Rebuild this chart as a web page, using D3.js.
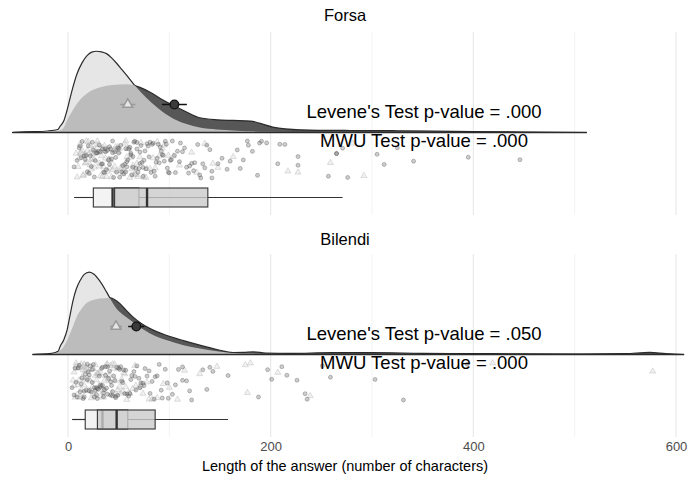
<!DOCTYPE html>
<html>
<head>
<meta charset="utf-8">
<script src="https://cdn.jsdelivr.net/npm/d3@7"></script>
<style>
  body { margin: 0; background: #fff; }
  svg { display: block; font-family: "Liberation Sans", Arial, sans-serif; }
</style>
</head>
<body>
<div id="chart"></div>
<script>
const panels = ["Forsa", "Bilendi"];
const xTicks = [0, 200, 400, 600];
const xMinorTicks = [100, 300, 500];

// density curves: [characters, density x 1000]
const forsaLightDensity = [[-55,0],[-40,0.1],[-20,0.25],[-10,0.5],[-8,1.0],[-4,2.0],[-1,3.65],[4,7.0],[9,9.8],[14,11.6],[19,12.8],[24,13.4],[28,13.5],[33,13.4],[38,13.1],[43,12.4],[48,11.5],[53,10.5],[58,9.5],[66,7.8],[77,5.8],[88,4.15],[96,3.1],[104,2.3],[117,1.4],[130,0.83],[147,0.5],[163,0.33],[180,0.2],[197,0.12],[250,0.06],[300,0.04],[380,0.02],[466,0]];
const forsaDarkDensity = [[-55,0],[-40,0.05],[-18,0.17],[-8,0.33],[-4,0.9],[-1,2.0],[4,3.5],[9,4.8],[19,6.5],[32,7.5],[44,7.9],[58,8.0],[66,7.8],[71,7.5],[81,6.7],[91,5.65],[104,4.5],[117,3.4],[130,2.45],[147,2.1],[163,2.0],[180,1.9],[189,1.55],[202,0.9],[229,0.45],[278,0.33],[320,0.3],[360,0.25],[400,0.15],[450,0.08],[512,0]];
const bilendiLightDensity = [[-35,0],[-20,0.1],[-10,0.4],[-8,1.26],[-4,2.5],[-1,4.0],[2,6.5],[5,9.0],[8,10.8],[12,12.3],[16,13.3],[21,13.7],[26,13.3],[31,12.3],[38,10.4],[44,8.6],[48,7.6],[56,6.4],[64,5.4],[72,4.4],[81,3.5],[97,2.4],[114,1.55],[130,1.0],[147,0.55],[163,0.25],[180,0.15],[230,0.1],[300,0.08],[400,0.05],[500,0.03],[608,0]];
const bilendiDarkDensity = [[-35,0],[-20,0.05],[-8,0.66],[-1,2.3],[4,4.3],[8.5,6.25],[13,7.5],[18,8.5],[24,9.0],[31,9.3],[41,9.4],[51,8.5],[57,7.4],[64,6.25],[72,5.2],[81,4.3],[97,3.2],[114,2.3],[130,1.55],[147,0.83],[163,0.33],[173,0.35],[183,0.43],[195,0.25],[220,0.2],[260,0.3],[300,0.3],[350,0.2],[400,0.15],[450,0.1],[500,0.08],[550,0.15],[574,0.35],[590,0.15],[608,0]];

// raw answer lengths (triangles = light group, circles = dark group)
const forsaLightPoints = [8,9,10,11,12,12,13,14,15,15,16,17,17,18,18,19,20,20,21,22,22,23,23,24,24,25,26,26,27,27,28,28,29,30,31,31,32,33,34,34,35,35,36,36,37,38,39,39,40,41,41,42,43,44,45,46,47,47,48,49,50,51,52,53,54,55,56,57,58,59,60,61,62,63,64,65,66,67,68,69,71,72,75,77,78,81,84,86,88,90,93,95,99,104,110,122,127,135,143,148,163,217,227,259,281,292];
const forsaDarkPoints = [6,9,11,12,13,14,16,17,18,19,20,21,22,23,24,25,26,27,28,29,30,31,32,33,34,34,35,36,37,37,38,39,40,41,41,42,43,44,44,45,46,47,48,49,50,50,51,52,53,54,55,56,57,57,58,58,59,60,61,62,62,63,64,64,65,66,67,68,68,69,70,71,71,72,73,74,74,75,76,77,78,79,80,81,82,83,84,85,86,87,88,89,90,91,92,93,94,95,96,97,98,99,100,101,102,103,105,106,108,110,111,113,115,117,119,120,122,124,125,128,130,131,133,135,137,140,142,142,148,152,157,160,167,170,173,177,178,182,187,189,191,196,207,209,214,227,227,257,265,265,271,276,305,312,325,341,395,446];
const bilendiLightPoints = [5,6,6,7,8,8,9,10,10,11,11,12,12,13,13,14,14,15,15,16,16,17,17,18,19,19,20,21,22,22,23,24,24,25,26,27,27,28,29,30,30,31,32,32,33,33,35,35,36,37,38,39,40,41,42,43,44,45,46,47,48,49,50,51,52,53,54,55,56,57,58,60,61,64,66,67,70,72,74,78,80,83,88,94,100,108,115,130,147,175,177,180,207,239,419,577];
const bilendiDarkPoints = [4,6,7,8,9,10,11,12,13,14,15,16,16,17,18,19,19,20,21,21,22,23,24,24,25,26,26,27,28,28,29,29,30,31,32,32,33,34,34,35,35,36,37,37,38,39,39,40,41,42,42,43,44,44,45,46,47,47,48,49,50,51,52,53,54,55,56,57,58,60,61,62,63,65,66,67,68,70,71,72,74,75,76,78,80,81,83,85,86,88,90,92,93,96,98,99,103,106,109,113,113,117,120,122,133,137,140,143,158,188,197,201,211,216,226,234,236,251,259,303,331,394];

// boxplot stats: [lower whisker, q1, median, q3, upper whisker]
const forsaLightBox = [8, 25, 44, 70, 137];
const forsaDarkBox = [6, 46, 78, 138, 271];
const bilendiLightBox = [5, 17, 34, 59, 118];
const bilendiDarkBox = [4, 29, 48, 86, 158];

// means [light, dark] and half widths of their intervals
const forsaMeans = [59, 105];
const forsaMeanCI = [7.5, 12.3];
const bilendiMeans = [47.4, 67.4];
const bilendiMeanCI = [6, 8];

const leveneP = [".000", ".050"];
const mwuP = [".000", ".000"];

const panelData = [
  { light: forsaLightDensity, dark: forsaDarkDensity, lightPts: forsaLightPoints, darkPts: forsaDarkPoints,
    lightBox: forsaLightBox, darkBox: forsaDarkBox, means: forsaMeans, ci: forsaMeanCI },
  { light: bilendiLightDensity, dark: bilendiDarkDensity, lightPts: bilendiLightPoints, darkPts: bilendiDarkPoints,
    lightBox: bilendiLightBox, darkBox: bilendiDarkBox, means: bilendiMeans, ci: bilendiMeanCI }
];

const width = 690, height = 477;
const panelTop = [28, 250];
const titleY = [21, 245];
const panelH = 187;

const x = d3.scaleLinear().domain([0, 600]).range([68, 676]);

const svg = d3.create("svg")
  .attr("width", width)
  .attr("height", height)
  .attr("viewBox", [0, 0, width, height]);

const defs = svg.append("defs");

// deterministic vertical jitter (layout only, not data)
const jitterFrac = (k, seed) => {
  const s = Math.sin(k * 12.9898 + seed * 78.233) * 43758.5453;
  return s - Math.floor(s);
};

panels.forEach((name, i) => {
  const p = panelData[i];
  const top = panelTop[i];
  const base = top + 104.5;
  const y = d3.scaleLinear().domain([0, 14]).range([base, base - 14 * 6.02]);

  const g = svg.append("g");

  // grid
  g.append("g").selectAll("line").data(xMinorTicks).join("line")
    .attr("x1", d => x(d)).attr("x2", d => x(d))
    .attr("y1", top + 4).attr("y2", top + panelH)
    .attr("stroke", "#f0f0f0").attr("stroke-width", 0.8);
  g.append("g").selectAll("line").data(xTicks).join("line")
    .attr("x1", d => x(d)).attr("x2", d => x(d))
    .attr("y1", top + 4).attr("y2", top + panelH)
    .attr("stroke", "#e8e8e8").attr("stroke-width", 1.1);

  // facet title
  svg.append("text")
    .attr("x", 345).attr("y", titleY[i])
    .attr("text-anchor", "middle")
    .attr("font-size", 16.5)
    .text(name);

  // densities
  const area = d3.area().x(d => x(d[0])).y0(base).y1(d => y(d[1])).curve(d3.curveMonotoneX);
  const line = d3.line().x(d => x(d[0])).y(d => y(d[1])).curve(d3.curveMonotoneX);

  const mDark = defs.append("mask").attr("id", "notDark" + i);
  mDark.append("rect").attr("width", width).attr("height", height).attr("fill", "white");
  mDark.append("path").attr("d", area(p.dark)).attr("fill", "black");
  const mLight = defs.append("mask").attr("id", "notLight" + i);
  mLight.append("rect").attr("width", width).attr("height", height).attr("fill", "white");
  mLight.append("path").attr("d", area(p.light)).attr("fill", "black");

  g.append("path").attr("d", area(p.dark)).attr("fill", "#575757");
  g.append("path").attr("d", area(p.light)).attr("fill", "#dedede").attr("fill-opacity", 0.75);
  g.append("path").attr("d", line(p.dark)).attr("fill", "none")
    .attr("stroke", "#2b2b2b").attr("stroke-width", 1.2).attr("mask", `url(#notLight${i})`);
  g.append("path").attr("d", line(p.light)).attr("fill", "none")
    .attr("stroke", "#2b2b2b").attr("stroke-width", 1.2).attr("mask", `url(#notDark${i})`);
  const ext = d3.extent([...p.light, ...p.dark], d => d[0]);
  g.append("line").attr("x1", x(ext[0])).attr("x2", x(ext[1]))
    .attr("y1", base).attr("y2", base)
    .attr("stroke", "#2b2b2b").attr("stroke-width", 1.4);

  // jittered points
  const jit = (k, seed) => top + 113 + 37 * jitterFrac(k, seed + i);
  g.append("g").selectAll("path").data(p.lightPts).join("path")
    .attr("transform", (d, k) => `translate(${x(d)},${jit(k, 0.31)})`)
    .attr("d", d3.symbol(d3.symbolTriangle, 16))
    .attr("fill", "#cfcfcf").attr("fill-opacity", 0.3)
    .attr("stroke", "#a8a8a8").attr("stroke-opacity", 0.5).attr("stroke-width", 0.7);
  g.append("g").selectAll("circle").data(p.darkPts).join("circle")
    .attr("cx", d => x(d)).attr("cy", (d, k) => jit(k, 0.77))
    .attr("r", 2)
    .attr("fill", "#707070").attr("fill-opacity", 0.35)
    .attr("stroke", "#444").attr("stroke-opacity", 0.45).attr("stroke-width", 0.7);

  // boxplots: whiskers first, then light box, then translucent dark box
  const by0 = top + 160, by1 = top + 179, bym = top + 169.5;
  [p.darkBox, p.lightBox].forEach(b => {
    g.append("line").attr("x1", x(b[0])).attr("x2", x(b[1])).attr("y1", bym).attr("y2", bym)
      .attr("stroke", "#333").attr("stroke-width", 1.1);
    g.append("line").attr("x1", x(b[3])).attr("x2", x(b[4])).attr("y1", bym).attr("y2", bym)
      .attr("stroke", "#333").attr("stroke-width", 1.1);
  });
  const drawBox = (b, fill, op) => {
    g.append("rect").attr("x", x(b[1])).attr("width", x(b[3]) - x(b[1]))
      .attr("y", by0).attr("height", by1 - by0)
      .attr("fill", fill).attr("fill-opacity", op)
      .attr("stroke", "#333").attr("stroke-width", 1.1);
    g.append("line").attr("x1", x(b[2])).attr("x2", x(b[2])).attr("y1", by0).attr("y2", by1)
      .attr("stroke", "#333").attr("stroke-width", 2.4);
  };
  drawBox(p.lightBox, "#f3f3f3", 1);
  drawBox(p.darkBox, "#cbcbcb", 0.8);

  // means with intervals
  const my = top + 76.5;
  g.append("line").attr("x1", x(p.means[0] - p.ci[0])).attr("x2", x(p.means[0] + p.ci[0]))
    .attr("y1", my).attr("y2", my).attr("stroke", "#9a9a9a").attr("stroke-width", 1.5);
  g.append("path").attr("transform", `translate(${x(p.means[0])},${my})`)
    .attr("d", d3.symbol(d3.symbolTriangle, 42))
    .attr("fill", "#e6e6e6").attr("stroke", "#9a9a9a").attr("stroke-width", 1.5);
  g.append("line").attr("x1", x(p.means[1] - p.ci[1])).attr("x2", x(p.means[1] + p.ci[1]))
    .attr("y1", my).attr("y2", my).attr("stroke", "#111").attr("stroke-width", 1.5);
  g.append("circle").attr("cx", x(p.means[1])).attr("cy", my).attr("r", 4.3)
    .attr("fill", "#3a3a3a").attr("stroke", "#111").attr("stroke-width", 1.3);

  // test annotations
  g.append("text").attr("x", 424).attr("y", top + 90.3)
    .attr("text-anchor", "middle").attr("font-size", 18.5)
    .text(`Levene's Test p-value = ${leveneP[i]}`);
  g.append("text").attr("x", 424).attr("y", top + 118.5)
    .attr("text-anchor", "middle").attr("font-size", 18.5)
    .text(`MWU Test p-value = ${mwuP[i]}`);
});

// x axis (labels only, as in the minimal theme)
const axis = svg.append("g")
  .attr("transform", `translate(0,${panelTop[1] + panelH})`)
  .call(d3.axisBottom(x).tickValues(xTicks).tickSize(0).tickPadding(5));
axis.select(".domain").remove();
axis.selectAll("text")
  .attr("font-family", "Liberation Sans, Arial, sans-serif")
  .attr("font-size", 13).attr("fill", "#4d4d4d");

svg.append("text")
  .attr("x", 345).attr("y", 471)
  .attr("text-anchor", "middle")
  .attr("font-size", 14.5)
  .text("Length of the answer (number of characters)");

d3.select("#chart").append(() => svg.node());
</script>
</body>
</html>
